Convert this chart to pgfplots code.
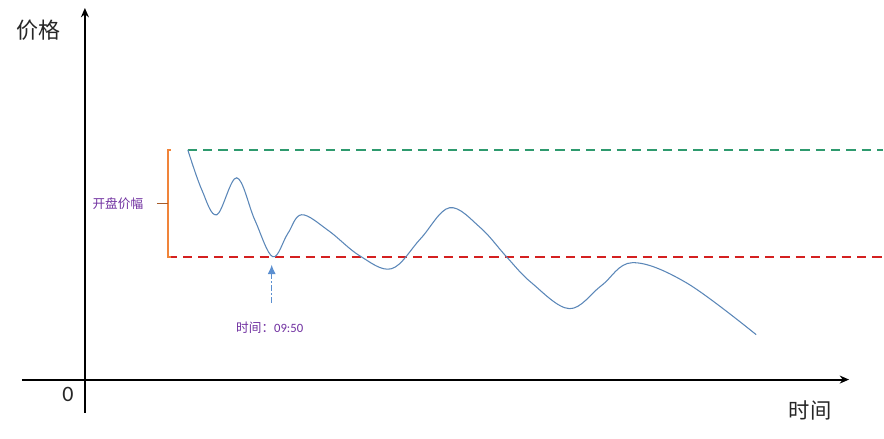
\documentclass[border=0pt]{standalone}
\usepackage{pgfplots}
\pgfplotsset{compat=1.18}
\usepackage{fontspec}
\setmainfont{Carlito}
\newfontfamily\cjk{Noto Sans CJK SC}
\usetikzlibrary{arrows.meta}
\definecolor{opengreen}{HTML}{2E9A6E}
\definecolor{openred}{HTML}{D42020}
\definecolor{bracketorange}{HTML}{F0843A}
\definecolor{notepurple}{HTML}{7030A0}
\definecolor{pricecurve}{HTML}{5B87B8}
\definecolor{arrowblue}{HTML}{5B8FD0}
\begin{document}
\begin{tikzpicture}
\begin{axis}[
  x=0.75pt, y=0.75pt,
  xmin=-63, xmax=765, ymin=-33, ymax=372,
  axis lines=middle,
  axis line style={line width=1.5pt, -{Stealth[length=7pt,width=6pt]}},
  xtick=\empty, ytick=\empty,
  clip=false,
]
% invisible frame, so the page has the reference's size
\addplot[draw=none] coordinates {(-85,-59) (799,380)};

% opening range
\addplot[opengreen, line width=1.5pt, dash pattern=on 7pt off 4.5pt] coordinates {(103,230) (799,230)};
\addplot[openred, line width=1.5pt, dash pattern=on 7pt off 4.5pt] coordinates {(83,123) (799,123)};

% bracket
\addplot[bracketorange, line width=1.2pt] coordinates {(86,230) (83,230) (83,123) (86,123)};
\addplot[bracketorange!70!black, line width=0.8pt] coordinates {(72,176) (83,176)};

% price
\addplot[pricecurve, line width=0.8pt, smooth, tension=0.6] coordinates {
(103,230) (117,190) (132,165) (152,202) (170,160) (188,123)
(203,146) (217,165) (244,149) (275,124) (307,111) (336,141)
(365,172) (396,152) (422,123) (447,97) (485,71) (517,94)
(548,117) (602,97) (672,45)
};

% marker arrow
\addplot[arrowblue, line width=0.8pt, dash pattern=on 4pt off 2pt on 1pt off 2pt,
  -{Latex[length=7pt,width=6pt]}] coordinates {(187,77) (187,115)};

\node[notepurple, font=\fontsize{9.5}{11}\selectfont] at (axis cs:33,176) {\cjk 开盘价幅};
\node[notepurple, font=\fontsize{9.5}{11}\selectfont] at (axis cs:185,52) {{\cjk 时间：}09:50};
\node[black!85, font=\fontsize{16.5}{18}\selectfont] at (axis cs:-46,350) {\cjk 价格};
\node[black!85, font=\fontsize{16}{18}\selectfont] at (axis cs:726,-31) {\cjk 时间};
\node[black!85, font=\fontsize{16.5}{18}\selectfont] at (axis cs:-17,-15) {0};
\end{axis}
\end{tikzpicture}
\end{document}
